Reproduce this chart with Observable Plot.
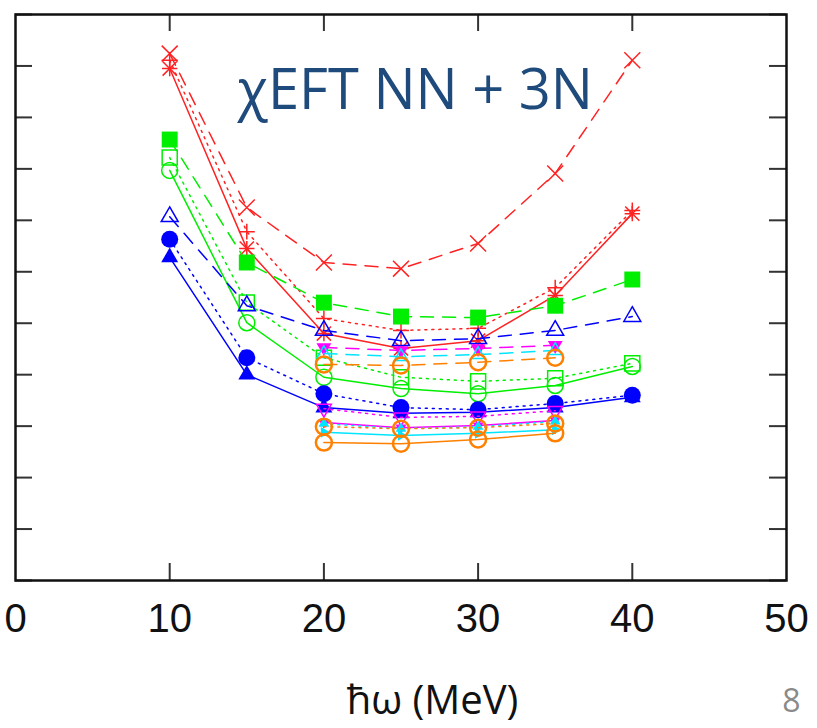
<!DOCTYPE html>
<html><head><meta charset="utf-8">
<script src="https://cdn.jsdelivr.net/npm/d3@7"></script>
<script src="https://cdn.jsdelivr.net/npm/@observablehq/plot@0.6"></script>
<style>body{margin:0;background:#fff;} #chart svg{display:block;}</style>
</head><body><div id="chart"></div>
<script>
// ---- data (energy in arbitrary units; y axis unlabeled in the original) ----
const hwFull = [10, 15, 20, 25, 30, 35, 40];
const hwMid = [20, 25, 30, 35];
const xTickValues = [0, 10, 20, 30, 40, 50];
const xInnerTicks = [10, 20, 30, 40];
const yTickValues = [0, 1, 2, 3, 4, 5, 6, 7, 8, 9, 10, 11];

const redDashed   = [10.24, 7.25, 6.18, 6.06, 6.55, 7.91, 10.11];
const redDotted   = [10.11, 6.78, 5.09, 4.86, 4.90, 5.69, 7.19];
const redSolid    = [9.95, 6.45, 4.80, 4.51, 4.66, 5.54, 7.13];
const greenDashed = [8.57, 6.18, 5.40, 5.13, 5.11, 5.34, 5.85];
const greenDotted = [8.22, 5.40, 4.33, 3.95, 3.87, 3.93, 4.22];
const greenSolid  = [7.97, 5.01, 3.95, 3.73, 3.63, 3.79, 4.16];
const blueDashed  = [7.07, 5.34, 4.86, 4.66, 4.70, 4.86, 5.13];
const blueDotted  = [6.63, 4.33, 3.63, 3.36, 3.32, 3.44, 3.60];
const blueSolid   = [6.28, 4.00, 3.36, 3.25, 3.27, 3.36, 3.56];
const magentaDashed = [4.53, 4.47, 4.51, 4.57];
const magentaDotted = [3.34, 3.17, 3.19, 3.30];
const magentaSolid  = [3.07, 2.97, 3.01, 3.11];
const cyanDashed    = [4.41, 4.35, 4.39, 4.47];
const cyanDotted    = [3.05, 2.95, 2.99, 3.09];
const cyanSolid     = [2.88, 2.82, 2.86, 2.93];
const orangeDashed  = [4.20, 4.18, 4.24, 4.33];
const orangeDotted  = [2.99, 2.95, 2.97, 3.05];
const orangeSolid   = [2.68, 2.66, 2.74, 2.86];

const titleText = "χEFT NN + 3N";
const xLabelText = "ħω (MeV)";
const pageNumber = "8";

// ---- styles ----
const RED = "#ff2222", GREEN = "#00ee00", BLUE = "#0000ff", MAGENTA = "#ff00ff", CYAN = "#00e5ff", ORANGE = "#ff8000";
const DASH = "13,9", DOT = "2,5", SOLID = null;

const series = [
  {xs: hwFull, ys: redDashed, color: RED, dash: DASH, markers: [{symbol: "times", r: 7.3}]},
  {xs: hwFull, ys: redDotted, color: RED, dash: DOT, markers: [{symbol: "plus", r: 5.2}]},
  {xs: hwFull, ys: redSolid, color: RED, dash: SOLID, markers: [{symbol: "plus", r: 5.0}, {symbol: "times", r: 6.5}]},
  {xs: hwFull, ys: greenDashed, color: GREEN, dash: DASH, markers: [{symbol: "square", r: 9, filled: true}]},
  {xs: hwFull, ys: greenDotted, color: GREEN, dash: DOT, markers: [{symbol: "square", r: 8.5}]},
  {xs: hwFull, ys: greenSolid, color: GREEN, dash: SOLID, markers: [{symbol: "circle", r: 8}]},
  {xs: hwFull, ys: blueDashed, color: BLUE, dash: DASH, markers: [{symbol: "triangle", r: 6.3}]},
  {xs: hwFull, ys: blueDotted, color: BLUE, dash: DOT, markers: [{symbol: "circle", r: 8.5, filled: true}]},
  {xs: hwFull, ys: blueSolid, color: BLUE, dash: SOLID, markers: [{symbol: "triangle", r: 6.3, filled: true}]},
  {xs: hwMid, ys: magentaDashed, color: MAGENTA, dash: DASH, markers: [{symbol: "triangle", r: 5.5, filled: true, rotate: 180}]},
  {xs: hwMid, ys: magentaDotted, color: MAGENTA, dash: DOT, markers: [{symbol: "triangle", r: 5.5, rotate: 180}]},
  {xs: hwMid, ys: magentaSolid, color: MAGENTA, dash: SOLID, markers: [{symbol: "triangle", r: 4, filled: true, rotate: 180}]},
  {xs: hwMid, ys: cyanDashed, color: CYAN, dash: DASH, markers: [{symbol: "triangle", r: 5}]},
  {xs: hwMid, ys: cyanDotted, color: CYAN, dash: DOT, markers: [{symbol: "triangle", r: 4, filled: true}]},
  {xs: hwMid, ys: cyanSolid, color: CYAN, dash: SOLID, markers: [{symbol: "triangle", r: 4, filled: true, rotate: 90}]},
  {xs: hwMid, ys: orangeDashed, color: ORANGE, dash: DASH, markers: [{symbol: "circle", r: 8, sw: 2.5}]},
  {xs: hwMid, ys: orangeDotted, color: ORANGE, dash: DOT, markers: [{symbol: "circle", r: 8, sw: 2.5}]},
  {xs: hwMid, ys: orangeSolid, color: ORANGE, dash: SOLID, markers: [{symbol: "circle", r: 8, sw: 2.5}]}
];

const W = 817, H = 728;
const mL = 15, mR = 31, mT = 14, mB = 148;
const plotW = W - mL - mR, plotH = H - mT - mB;
const TICK = 17;

const marks = [];
for (const s of series) {
  const d = s.ys.map((v, i) => ({hw: s.xs[i], e: v}));
  marks.push(Plot.line(d, {x: "hw", y: "e", stroke: s.color, strokeWidth: 1.5, strokeDasharray: s.dash}));
  for (const m of s.markers) {
    marks.push(Plot.dot(d, {
      x: "hw", y: "e", symbol: m.symbol, r: m.r, rotate: m.rotate || 0,
      fill: m.filled ? s.color : "none",
      stroke: m.filled ? "none" : s.color,
      strokeWidth: m.sw || 1.5
    }));
  }
}

// inner ticks (gnuplot-style mirrored)
const tickStyle = {stroke: "#333", strokeWidth: 2};
marks.push(Plot.tickY(yTickValues, {y: d => d, insetRight: plotW - TICK, ...tickStyle}));
marks.push(Plot.tickY(yTickValues, {y: d => d, insetLeft: plotW - TICK, ...tickStyle}));
marks.push(Plot.tickX(xInnerTicks, {x: d => d, insetBottom: plotH - TICK, ...tickStyle}));
marks.push(Plot.tickX(xInnerTicks, {x: d => d, insetTop: plotH - TICK, ...tickStyle}));
marks.push(Plot.frame({stroke: "#111", strokeWidth: 2.5}));

// title inside the frame
marks.push(Plot.text([titleText], {
  text: d => d, frameAnchor: "top-left", dx: 222, dy: 94,
  textAnchor: "start", lineAnchor: "bottom",
  fontFamily: "Open Sans", fontSize: 56, fill: "#1f4a7c"
}));
// x label and page number below
marks.push(Plot.text([xLabelText], {
  text: d => d, frameAnchor: "bottom-left", dx: 417, dy: 133,
  textAnchor: "middle", lineAnchor: "bottom",
  fontFamily: "Open Sans", fontSize: 40, fill: "#111"
}));
marks.push(Plot.text([pageNumber], {
  text: d => d, frameAnchor: "bottom-left", dx: 776, dy: 131,
  textAnchor: "middle", lineAnchor: "bottom",
  fontFamily: "Open Sans", fontSize: 32, fill: "#8a8a8a"
}));

const chart = Plot.plot({
  width: W, height: H,
  marginLeft: mL, marginRight: mR, marginTop: mT, marginBottom: mB,
  style: {fontFamily: "Liberation Sans", fontSize: "40px", color: "#111", background: "#fff", overflow: "visible"},
  x: {domain: [0, 50], ticks: 5, tickSize: 0, tickPadding: 23, label: null, tickFormat: d => String(d)},
  y: {domain: [0, 11], axis: null},
  marks
});
document.getElementById("chart").appendChild(chart);
</script>
</body></html>
